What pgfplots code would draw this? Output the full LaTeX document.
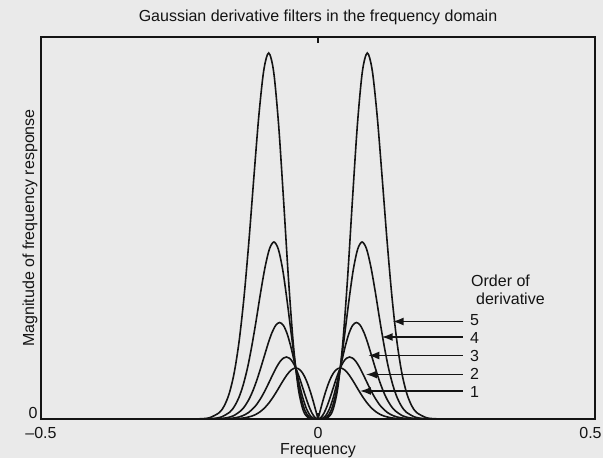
\documentclass[border=0pt]{standalone}
\usepackage{pgfplots}
\pgfplotsset{compat=1.18}
\usepackage{pgfplotstable}
\usepackage{fontspec}
\setmainfont{Liberation Sans}
\usetikzlibrary{arrows.meta}
\definecolor{paper}{RGB}{234,234,234}
\definecolor{ink}{RGB}{20,20,20}

\pgfplotstableread{
f m
0 0
0.004 8.37
0.008 16.48
0.012 24.12
0.016 31.05
0.020 37.10
0.024 42.14
0.028 46.07
0.032 48.85
0.036 50.47
0.040 51.00
0.044 50.51
0.048 49.11
0.052 46.96
0.056 44.18
0.060 40.95
0.064 37.41
0.068 33.70
0.072 29.95
0.076 26.28
0.080 22.76
0.088 16.45
0.096 11.33
0.104 7.44
0.112 4.67
0.120 2.80
0.132 1.20
0.144 0.46
0.160 0.10
0.180 0
}\dataone

\pgfplotstableread{
f m
0 0
0.0057 1.67
0.0114 6.48
0.0171 13.86
0.0228 22.98
0.0285 32.81
0.0342 42.33
0.0399 50.59
0.0456 56.87
0.0513 60.73
0.0570 62.00
0.0627 60.81
0.0684 57.50
0.0741 52.56
0.0798 46.53
0.0855 39.97
0.0912 33.35
0.0969 27.07
0.1026 21.39
0.1083 16.46
0.1140 12.35
0.1254 6.45
0.1368 3.06
0.1482 1.32
0.1596 0.52
0.1710 0.19
0.1881 0.03
0.2000 0
}\datatwo

\pgfplotstableread{
f m
0 0
0.0069 0.43
0.0139 3.26
0.0208 10.20
0.0277 21.78
0.0347 37.16
0.0416 54.44
0.0485 71.14
0.0554 84.78
0.0624 93.55
0.0693 96.50
0.0762 93.73
0.0832 86.19
0.0901 75.31
0.0970 62.74
0.1040 49.94
0.1109 38.08
0.1178 27.84
0.1247 19.55
0.1317 13.20
0.1386 8.58
0.1525 3.24
0.1663 1.06
0.1802 0.30
0.1940 0.07
0.2100 0
}\datathree

\pgfplotstableread{
f m
0 0
0.0080 0.13
0.0159 1.93
0.0239 8.85
0.0318 24.31
0.0398 49.58
0.0477 82.50
0.0557 117.87
0.0636 148.93
0.0716 169.81
0.0795 177.00
0.0875 170.27
0.0954 152.24
0.1034 127.18
0.1113 99.68
0.1193 73.55
0.1272 51.22
0.1352 33.74
0.1431 21.06
0.1511 12.47
0.1590 7.02
0.1749 1.92
0.1908 0.43
0.2067 0.08
0.2200 0
}\datafour

\pgfplotstableread{
f m
0 0
0.0089 0.04
0.0178 1.29
0.0267 8.65
0.0356 30.61
0.0445 74.59
0.0534 140.96
0.0623 220.17
0.0712 294.96
0.0801 347.52
0.0890 366.00
0.0979 348.68
0.1068 303.15
0.1157 242.13
0.1246 178.57
0.1335 122.11
0.1424 77.68
0.1513 46.10
0.1602 25.57
0.1691 13.29
0.1780 6.48
0.1958 1.28
0.2136 0.20
0.2300 0
}\datafive

\begin{document}
\begin{tikzpicture}[font=\fontsize{16}{19}\selectfont, text=ink]
\fill[paper] (-41pt,-39pt) rectangle (562pt,419pt);
\begin{axis}[
  scale only axis,
  width=554pt, height=382pt,
  xmin=-0.5, xmax=0.5, ymin=0, ymax=382,
  xtick={-0.5,0,0.5}, xticklabels={–0.5,0,\kern-9pt 0.5},
  ytick={0}, yticklabels={0},
  tick align=inside,
  major tick length=6pt,
  every tick/.style={ink, line width=1.4pt},
  axis line style={ink, line width=1.6pt},
  tick label style={font=\fontsize{16}{19}\selectfont},
  xticklabel style={yshift=-5pt},
  yticklabel style={yshift=6pt},
  title={Gaussian derivative filters in the frequency domain},
  title style={at={(axis description cs:0.5,1)}, anchor=south, yshift=3pt, font=\fontsize{16}{19}\selectfont},
  xlabel={Frequency},
  xlabel style={at={(axis description cs:0.5,0)}, anchor=north, inner sep=0pt, yshift=-24pt, font=\fontsize{16}{19}\selectfont},
  ylabel={Magnitude of frequency response},
  ylabel style={at={(axis description cs:0,0.5)}, anchor=south, font=\fontsize{16}{19}\selectfont},
  clip=true,
]
\addplot[ink, line width=1.6pt, smooth] table[x=f, y=m] {\dataone};
\addplot[ink, line width=1.6pt, smooth] table[x expr=-\thisrow{f}, y=m] {\dataone};
\addplot[ink, line width=1.6pt, smooth] table[x=f, y=m] {\datatwo};
\addplot[ink, line width=1.6pt, smooth] table[x expr=-\thisrow{f}, y=m] {\datatwo};
\addplot[ink, line width=1.6pt, smooth] table[x=f, y=m] {\datathree};
\addplot[ink, line width=1.6pt, smooth] table[x expr=-\thisrow{f}, y=m] {\datathree};
\addplot[ink, line width=1.6pt, smooth] table[x=f, y=m] {\datafour};
\addplot[ink, line width=1.6pt, smooth] table[x expr=-\thisrow{f}, y=m] {\datafour};
\addplot[ink, line width=1.6pt, smooth] table[x=f, y=m] {\datafive};
\addplot[ink, line width=1.6pt, smooth] table[x expr=-\thisrow{f}, y=m] {\datafive};
\draw[ink, line width=1.5pt, -{Latex[length=11pt,width=8pt]}] (axis cs:0.2617,97.5) -- (axis cs:0.1348,97.5);
\draw[ink, line width=1.5pt, -{Latex[length=11pt,width=8pt]}] (axis cs:0.2617,82) -- (axis cs:0.1150,82);
\draw[ink, line width=1.5pt, -{Latex[length=11pt,width=8pt]}] (axis cs:0.2617,63.5) -- (axis cs:0.0908,63.5);
\draw[ink, line width=1.5pt, -{Latex[length=11pt,width=8pt]}] (axis cs:0.2617,44.5) -- (axis cs:0.0866,44.5);
\draw[ink, line width=1.5pt, -{Latex[length=11pt,width=8pt]}] (axis cs:0.2617,28) -- (axis cs:0.0758,28);
\node[anchor=west, inner sep=0pt] at (axis cs:0.2744,99) {5};
\node[anchor=west, inner sep=0pt] at (axis cs:0.2744,81) {4};
\node[anchor=west, inner sep=0pt] at (axis cs:0.2744,63) {3};
\node[anchor=west, inner sep=0pt] at (axis cs:0.2744,45) {2};
\node[anchor=west, inner sep=0pt] at (axis cs:0.2744,27) {1};
\node[anchor=west, inner sep=0pt] at (axis cs:0.2762,138) {Order of};
\node[anchor=west, inner sep=0pt] at (axis cs:0.2852,120) {derivative};
\end{axis}
\pgfresetboundingbox
\path[use as bounding box] (-41pt,-39pt) rectangle (562pt,419pt);
\end{tikzpicture}
\end{document}
